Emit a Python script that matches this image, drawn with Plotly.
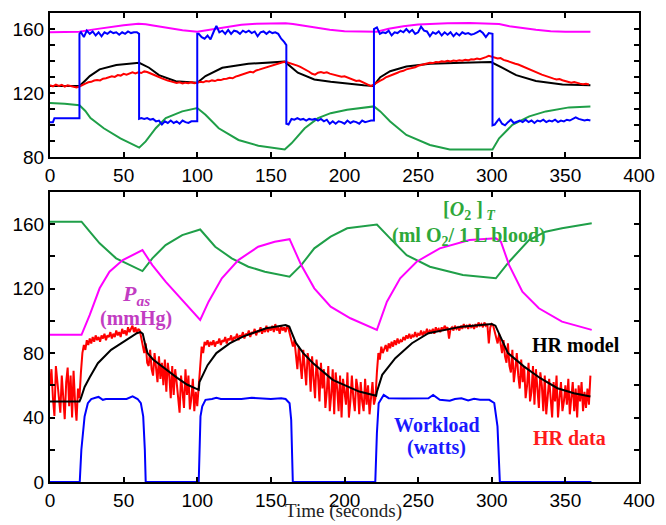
import plotly.graph_objects as go

# ---------------- TOP PANEL DATA ----------------
# magenta (top)
mag_top = [(0, 158), (10, 158), (20, 158.3), (30, 159.8), (40, 161.3), (50, 162.4), (60, 163.3),
           (65, 163), (70, 162.2), (80, 160.6), (90, 159.2), (100, 158.3), (110, 159.8), (120, 161.6),
           (130, 162.7), (140, 163.3), (150, 163.5), (160, 163.6), (165, 163.2), (170, 162.4),
           (180, 160.9), (190, 159.5), (200, 158.6), (210, 158.3), (222, 158.3), (230, 160.2),
           (240, 161.8), (250, 162.8), (260, 163.4), (270, 163.6), (285, 163.7), (300, 163.6),
           (305, 163.2), (312, 161.8), (320, 160.6), (330, 159.5), (340, 158.7), (350, 158.3), (367, 158.3)]

# black HR model (top)
hr_model_top = [(0, 124.5), (10, 124.3), (20, 124.5), (24, 128), (27, 130.7), (33.7, 134.9), (45, 137.6),
                (60.6, 139), (67.3, 135.9), (74, 131.3), (85.4, 127.5), (100, 126.5), (105.6, 130.7),
                (117, 135.9), (134.7, 138.4), (159.4, 139.7), (168.3, 132.8), (179.5, 128.6),
                (190.6, 127.2), (213, 125), (219.5, 124.5), (224.3, 130), (231, 133.7), (242, 136.7),
                (258, 138.4), (280, 139), (299.5, 139.4), (307, 135.9), (316.6, 131.3), (330, 127.6),
                (348, 125.5), (367, 125)]

# red HR data (top), every 2 s from 0 to 366
hr_data_top = [
    125.0, 124.3, 125.4, 124.6, 125.2, 124.1, 125.0, 124.4, 123.8, 123.6,
    124.2, 125.3, 126.0, 126.8, 127.1, 127.9, 128.3, 128.0, 129.1, 129.4,
    129.8, 130.6, 130.2, 131.3, 131.0, 132.1, 131.6, 132.5, 133.0, 132.4,
    133.1, 132.6, 133.6, 133.2, 132.3, 131.7, 130.8, 130.1, 129.3, 128.4,
    127.9, 127.4, 127.0, 126.4, 126.8, 126.1, 126.6, 126.2, 126.9, 126.3,
    126.6, 127.1, 126.8, 127.6, 127.3, 128.0, 127.6, 128.4, 128.2, 128.9,
    129.0, 129.6, 129.3, 130.4, 130.9, 131.6, 132.3, 132.9, 133.4, 133.0,
    134.2, 134.7, 135.3, 135.9, 136.4, 136.8, 137.5, 138.1, 138.7, 139.3,
    139.6, 139.0, 138.4, 138.1, 137.2, 136.4, 135.5, 134.6, 133.4, 132.1,
    131.6, 132.8, 133.2, 132.6, 133.0, 132.2, 131.8, 131.2, 130.9, 130.3,
    130.6, 129.9, 129.1, 128.8, 127.7, 127.9, 127.1, 126.4, 125.3, 124.4,
    125.6, 126.9, 127.7, 128.6, 129.9, 130.6, 131.2, 132.1, 132.8, 133.6,
    134.0, 134.9, 135.3, 136.0, 136.2, 137.1, 137.6, 137.9, 138.5, 139.0,
    138.8, 139.5, 139.3, 139.9, 139.6, 140.2, 139.8, 140.4, 140.1, 140.6,
    140.3, 140.9, 140.5, 141.2, 141.0, 141.6, 141.2, 142.1, 142.5, 143.3,
    142.8, 142.3, 141.6, 141.9, 140.8, 140.3, 139.5, 139.1, 138.4, 137.9,
    137.1, 136.4, 135.3, 134.7, 134.0, 133.1, 132.4, 131.6, 131.0, 130.2,
    129.8, 129.1, 128.6, 128.9, 128.1, 127.6, 127.2, 126.6, 127.0, 126.3,
    126.0, 125.6, 125.9, 125.4]
hr_data_top_t = list(range(0, 2 * len(hr_data_top), 2))

# blue (top)
blue_top = [
    (0, 102), (2, 102), (3, 104.5), (6, 104.5), (10, 104.5), (14, 104.5), (18, 104.5), (20, 104.5),
    (20, 157), (21, 158), (23, 155), (25, 159), (27, 157), (29, 158.5), (31, 156), (33, 158),
    (35, 155.5), (37, 158), (39, 157), (41, 158.5), (43, 157.5), (45, 158), (47, 156.5), (49, 158),
    (51, 157), (53, 158.5), (55, 157.5), (57, 158), (59, 158), (60.5, 157),
    (60.5, 104), (62, 104.5), (64, 104), (66, 104.5), (68, 103.5), (70, 104), (72, 102.5), (74, 103),
    (76, 100.5), (78, 102.5), (80, 101.5), (82, 103), (84, 101.5), (86, 102.5), (88, 101), (90, 103),
    (92, 102), (94, 101.5), (96, 102.5), (98, 102.5), (100, 102.5),
    (100, 157), (101, 157), (103, 155), (105, 154), (107, 156), (109, 153.5), (111, 158), (113, 162),
    (115, 158), (117, 159), (119, 157), (121, 159.5), (123, 157), (125, 159), (127, 158.5), (129, 157),
    (131, 159), (133, 158), (135, 159), (137, 157.5), (139, 158.5), (141, 155.5), (143, 158),
    (145, 158.5), (147, 157), (149, 158.5), (151, 157.5), (153, 158), (155, 157), (157, 154),
    (159, 152), (160.5, 150),
    (160.5, 101), (162, 100.5), (164, 104), (166, 103.5), (168, 104.5), (170, 103.5), (172, 104),
    (174, 103), (176, 104), (178, 103.5), (180, 104), (182, 103), (184, 104), (186, 102.5),
    (188, 103.5), (190, 101), (192, 102.5), (194, 101), (196, 102.5), (198, 102), (200, 101),
    (202, 103), (204, 101.5), (206, 102.5), (208, 102), (210, 101), (212, 103), (214, 102),
    (216, 102.5), (218, 103), (220, 103),
    (220, 160), (222, 161), (224, 157), (226, 158), (228, 157.5), (230, 159), (232, 156), (234, 158),
    (236, 157.5), (238, 159), (240, 158), (242, 160), (244, 158), (246, 159.5), (248, 157), (250, 158),
    (252, 161.5), (254, 159), (256, 158.5), (258, 155.5), (260, 158), (262, 157), (264, 158.5),
    (266, 156), (268, 158), (270, 156.5), (272, 158), (274, 155.5), (276, 157.5), (278, 156),
    (280, 158), (282, 157), (284, 157.5), (286, 156.5), (288, 157), (290, 158), (292, 159),
    (294, 157.5), (296, 155), (298, 157.5), (300.5, 157),
    (300.5, 100), (302, 100.5), (304, 103), (305, 104), (307, 101), (309, 100), (311, 102),
    (313, 103.5), (315, 101.5), (317, 102.5), (319, 103), (321, 102), (323, 103.5), (325, 102),
    (327, 103), (329, 101.5), (331, 103), (333, 102.5), (335, 103.5), (337, 102), (339, 103),
    (341, 102.5), (343, 103.5), (345, 102), (347, 103), (349, 102.5), (351, 103.5), (353, 103),
    (355, 104), (357, 105), (359, 104), (361, 103.5), (363, 103), (365, 103.5), (367, 103)]

# green (top)
green_top = [(0, 114), (10, 113.5), (20, 112.5), (24, 109), (27.5, 104.5), (36.5, 98.2), (47.8, 91.9),
             (60.6, 86.1), (65, 90), (71.8, 98.2), (78.6, 104.5), (89.8, 108.7), (100, 110.8),
             (105.6, 106.6), (114.6, 98.2), (128, 90.9), (141.5, 87.3), (159.4, 85), (164, 88.8),
             (173, 98.2), (182, 104.5), (190.6, 107.6), (201.8, 109.7), (220, 111.8), (224.3, 108.7),
             (231, 102.4), (242, 94), (258, 87.8), (271.5, 85), (300.5, 85), (305, 91.9),
             (314, 100.3), (325.5, 105.6), (336.7, 108.7), (352.5, 111.2), (367, 111.8)]

# ---------------- BOTTOM PANEL DATA ----------------
# [O2]_T (green)
o2_t = [(0, 161.5), (21.4, 161.5), (27, 155.3), (33.7, 148.1), (44.9, 138.8), (56.1, 133.6),
        (62.8, 130.9), (69.5, 138.8), (78.5, 147), (89.8, 153.2), (102, 156.7), (112.2, 146),
        (123.4, 138.8), (134.7, 133.6), (145.9, 130.5), (162.7, 127.4), (170.6, 134.6),
        (179.5, 145), (190.6, 152.2), (201.8, 157.4), (222, 159.8), (231, 151.2), (242.2, 140.8),
        (258, 133.6), (280.4, 128.4), (302.8, 126.4), (311.8, 136.7), (325.3, 150.1),
        (336.5, 155.3), (347.7, 157.4), (367.9, 160.5)]

# Pas (magenta)
pas = [(0, 91.3), (21.4, 91.3), (27, 103.7), (33.7, 120.2), (40.4, 130.5), (49.4, 137.7),
       (62.8, 143.9), (69.5, 134.6), (78.5, 124.3), (89.8, 113), (102, 100.6), (107.7, 111.9),
       (116.7, 126.4), (127.9, 137.7), (141.4, 146), (152.6, 149.1), (162.7, 150.7), (170.6, 134.6),
       (179.5, 120.2), (190.6, 108.8), (204, 101.6), (222, 94.4), (228.8, 111.9), (237.8, 126.4),
       (249, 136.7), (264.7, 145), (284.9, 150.1), (302.8, 151.2), (306.2, 149.1), (311.8, 134.6),
       (320.8, 118.1), (332, 107.8), (347.7, 99.5), (367.9, 94.4)]

# HR model (black)
hr_model = [(0, 50), (20, 50), (21, 52), (23.5, 59), (27, 65), (32.5, 73.7), (41.5, 82), (52.7, 88.5),
            (59, 92.3), (61.5, 93), (63, 92), (64.5, 86), (66.2, 80), (70, 76), (77.4, 70.6),
            (86.4, 64.6), (93, 60.5), (101, 57.2), (101.5, 62), (104, 67), (107, 72.5), (113, 80),
            (122, 86), (131, 90.2), (146.8, 95.4), (160, 97.4), (162.5, 96.5), (164, 93), (167, 86.3),
            (172, 80), (178.5, 73.9), (192, 63.4), (210, 56.1), (221.5, 53.5), (222, 56), (225.6, 66.5),
            (234.5, 76.8), (245.8, 86.1), (257, 92.3), (279.5, 96.4), (300, 98), (302.5, 97),
            (305, 92), (311, 80), (322, 71.6), (333, 64.4), (344.6, 58.2), (355.8, 55.1), (367, 53)]

# HR data (red), every 1 s from 0 to 367
hr_data = [
    60, 70, 52, 41, 72, 62, 55, 43, 66, 48,
    39, 62, 71, 47, 66, 40, 69, 50, 38, 58,
    52, 68, 80, 85, 82, 88, 85, 89, 86, 90,
    87, 91, 88, 90, 87, 91, 89, 92, 88, 91,
    90, 93, 89, 92, 90, 94, 91, 93, 90, 95,
    92, 94, 91, 96, 93, 95, 97, 93, 96, 92,
    95, 94, 90, 86, 80, 86, 74, 72, 82, 70,
    66, 80, 72, 62, 78, 64, 74, 60, 76, 56,
    74, 66, 52, 72, 54, 70, 62, 50, 43, 66,
    58, 46, 70, 54, 66, 45, 52, 64, 44, 56,
    47, 58, 74, 84, 80, 87, 85, 88, 84, 87,
    85, 88, 84, 87, 86, 89, 85, 88, 87, 90,
    86, 89, 88, 91, 87, 90, 89, 92, 88, 91,
    90, 93, 89, 92, 91, 94, 90, 93, 92, 95,
    91, 94, 93, 96, 92, 95, 93, 97, 93, 96,
    94, 97, 93, 98, 94, 96, 92, 97, 94, 96,
    93, 97, 95, 91, 88, 84, 88, 76, 70, 84,
    72, 64, 82, 70, 60, 80, 74, 56, 78, 64,
    52, 76, 66, 50, 74, 58, 70, 46, 56, 72,
    44, 54, 70, 42, 68, 58, 44, 66, 40, 64,
    54, 48, 68, 40, 50, 66, 52, 44, 64, 58,
    42, 62, 50, 44, 64, 48, 60, 42, 52, 62,
    48, 52, 68, 80, 76, 84, 80, 82, 85, 81,
    86, 83, 87, 84, 88, 85, 89, 86, 88, 87,
    90, 88, 91, 89, 92, 89, 91, 90, 93, 90,
    92, 91, 94, 91, 93, 92, 95, 92, 94, 93,
    95, 92, 96, 94, 95, 93, 96, 94, 97, 95,
    96, 89, 95, 96, 94, 97, 95, 96, 94, 97,
    95, 98, 96, 97, 95, 98, 96, 97, 95, 98,
    96, 99, 97, 98, 96, 99, 97, 98, 86, 96,
    98, 97, 93, 90, 86, 92, 84, 80, 88, 78,
    74, 86, 72, 68, 82, 62, 70, 80, 66, 58,
    76, 62, 72, 52, 60, 74, 50, 56, 72, 48,
    70, 54, 46, 68, 60, 44, 66, 42, 54, 64,
    52, 40, 62, 50, 66, 40, 52, 62, 44, 50,
    60, 48, 64, 42, 52, 62, 44, 58, 40, 60,
    50, 62, 44, 56, 46, 58, 48, 66]
hr_data_t = list(range(len(hr_data)))

# Workload (blue)
workload = [(0, 0), (20.2, 0), (21.3, 20), (22.3, 32), (23.5, 40.7), (25.7, 48.9), (28, 51.5),
            (31.4, 52.4), (33, 52.8), (35.9, 51), (38, 51.5), (45, 51.5), (52, 51.5), (56.1, 53.1),
            (59.5, 51.5), (61.7, 48.9), (63.3, 40.7), (64.4, 20), (65, 0), (101, 0), (101.6, 30),
            (102.2, 40.7), (103.4, 47), (105.6, 51), (110, 51.5), (113, 52.2), (116, 51.5),
            (130, 51.5), (137, 52.2), (142, 52), (150, 51.5), (157, 52), (160, 51.5), (162.7, 48.9),
            (163.8, 38.5), (164.9, 0), (220.9, 0), (222, 30.3), (223.2, 48.9), (226.6, 54), (230, 52),
            (240, 51.8), (250, 51.8), (257, 52), (260.2, 54), (264.7, 51), (271.5, 50.4),
            (275, 51.5), (279.4, 52), (284, 50.6), (288, 51.6), (292, 51), (298.3, 51),
            (301.7, 49), (303.9, 34.5), (305.5, 0), (367.7, 0)]

# tick labels
x_ticks = [0, 50, 100, 150, 200, 250, 300, 350, 400]
top_y_ticks = [80, 120, 160]
bot_y_ticks = [0, 40, 80, 120, 160]

GREEN = "#1f9f48"
MAGENTA = "#ff00ff"
BLUE = "#0000ff"
RED = "#ff0000"
BLACK = "#000000"

def unzip(pairs):
    return [p[0] for p in pairs], [p[1] for p in pairs]

fig = go.Figure()

def add(pairs, color, xa, ya, width=2.0):
    xs, ys = unzip(pairs)
    fig.add_trace(go.Scatter(x=xs, y=ys, mode="lines", line=dict(color=color, width=width),
                             xaxis=xa, yaxis=ya, hoverinfo="skip"))

# top panel
add(mag_top, MAGENTA, "x", "y")
add(green_top, GREEN, "x", "y")
add(hr_model_top, BLACK, "x", "y")
fig.add_trace(go.Scatter(x=hr_data_top_t, y=hr_data_top, mode="lines", line=dict(color=RED, width=2),
                         xaxis="x", yaxis="y", hoverinfo="skip"))
add(blue_top, BLUE, "x", "y")

# bottom panel
add(o2_t, GREEN, "x2", "y2")
add(pas, MAGENTA, "x2", "y2")
fig.add_trace(go.Scatter(x=hr_data_t, y=hr_data, mode="lines", line=dict(color=RED, width=2),
                         xaxis="x2", yaxis="y2", hoverinfo="skip"))
add(hr_model, BLACK, "x2", "y2")
add(workload, BLUE, "x2", "y2")

TICKFONT = dict(family="Liberation Sans, Arial, sans-serif", size=19, color="black")
SERIF = "Liberation Serif, Times New Roman, serif"

def xaxis_cfg(anchor):
    return dict(anchor=anchor, domain=[0, 1], range=[0, 400], tickmode="array", tickvals=x_ticks,
                ticktext=[str(v) for v in x_ticks], ticks="inside", ticklen=5, tickwidth=1.5,
                tickcolor="black", showline=True, linecolor="black", linewidth=2, mirror="ticks",
                showgrid=False, zeroline=False, tickfont=TICKFONT)

def yaxis_cfg(anchor, domain, rng, vals, minor_dtick):
    return dict(anchor=anchor, domain=domain, range=rng, tickmode="array", tickvals=vals,
                ticktext=[str(v) for v in vals], ticks="inside", ticklen=5, tickwidth=1.5,
                tickcolor="black", showline=True, linecolor="black", linewidth=2, mirror="ticks",
                showgrid=False, zeroline=False, tickfont=TICKFONT,
                minor=dict(dtick=minor_dtick, tick0=rng[0], ticks="inside", ticklen=5, tickwidth=1.5,
                           tickcolor="black", showgrid=False))

fig.update_layout(
    width=666, height=525,
    margin=dict(l=50, r=22, t=11, b=43),
    paper_bgcolor="white", plot_bgcolor="white",
    showlegend=False,
    xaxis=xaxis_cfg("y"),
    yaxis=yaxis_cfg("x", [0.692, 1.0], [80, 170], top_y_ticks, 10),
    xaxis2=xaxis_cfg("y2"),
    yaxis2=yaxis_cfg("x2", [0.0, 0.6185], [0, 180], bot_y_ticks, 20),
)

def label(text, x, y, color, size=20):
    fig.add_annotation(text=text, x=x, y=y, xref="x2", yref="y2", showarrow=False,
                       font=dict(family=SERIF, size=size, color=color),
                       xanchor="center", yanchor="middle")

label("<b>[<i>O</i><sub>2</sub> ]<sub><i> T</i></sub></b>", 284.8, 168.7, "#2ea83a")
label("<b>(ml O<sub>2</sub>/ 1 L blood)</b>", 284.8, 152.6, "#2ea83a")
label("<b><i>P</i><sub><i>as</i></sub></b>", 58.5, 116.0, "#c23cc2", size=22)
label("<b>(mmHg)</b>", 58.5, 101.5, "#c23cc2")
label("<b>HR model</b>", 357, 85, BLACK)
label("<b>Workload</b>", 262.6, 35.5, "#1a1aff")
label("<b>(watts)</b>", 262.6, 21.3, "#1a1aff")
label("<b>HR data</b>", 352.7, 27.3, "#ff1a1a")

fig.add_annotation(text="Time (seconds)", x=0.498, y=-0.062, xref="paper", yref="paper",
                   showarrow=False, xanchor="center", yanchor="middle",
                   font=dict(family=SERIF, size=19, color="#222222"))

fig.write_html("out.html",
               config={"displayModeBar": False},
               post_script="document.body.style.margin='0';document.body.style.padding='0';"
                           "document.body.style.overflow='hidden';")
